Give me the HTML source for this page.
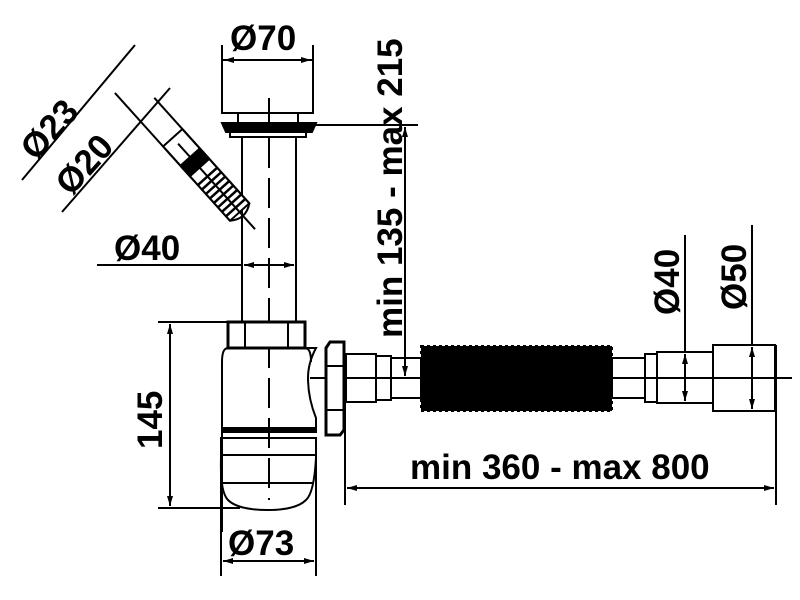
<!DOCTYPE html>
<html><head><style>body{margin:0;background:#fff}svg{display:block}text{font-family:"Liberation Sans",sans-serif;font-weight:bold;font-size:35px;fill:#000}</style></head><body>
<svg width="800" height="600" viewBox="0 0 800 600" xmlns="http://www.w3.org/2000/svg">
<defs><marker id="a" viewBox="0 0 10 6" refX="10" refY="3" markerWidth="10" markerHeight="6" orient="auto-start-reverse" markerUnits="userSpaceOnUse"><path d="M0,0L10,3L0,6z"/></marker></defs>
<g fill="none" stroke="#000" stroke-width="2">
<rect x="222" y="60" width="91" height="53" fill="#fff"/>
<line x1="222" y1="45" x2="222" y2="60"/><line x1="313" y1="45" x2="313" y2="60"/>
<line x1="224" y1="60" x2="311" y2="60" marker-start="url(#a)" marker-end="url(#a)"/>
<rect x="238" y="113" width="60" height="10"/>
<path d="M222,123h94l-4,9h-86z" fill="#000"/>
<rect x="230" y="132" width="76" height="5" />
<line x1="298" y1="125" x2="418" y2="125"/>
<line x1="242" y1="137" x2="242" y2="322"/><line x1="296" y1="137" x2="296" y2="322"/>
<line x1="269" y1="98" x2="269" y2="500" stroke-dasharray="30,10"/>
<line x1="97" y1="265" x2="242" y2="265"/>
<line x1="244" y1="265" x2="294" y2="265" marker-start="url(#a)" marker-end="url(#a)"/>
<rect x="228" y="322" width="77" height="26" fill="#fff" stroke-width="3"/>
<line x1="245" y1="322" x2="245" y2="348"/><line x1="288" y1="322" x2="288" y2="348"/>
<path d="M228,348 q-6,0 -6,14 v170 M305,348 q6,0 6,14"/>
<path d="M222,362 L222,432 H316 V418 q-8,-20 -8,-40 q0,-15 8,-30 l-10,0"/>
<path d="M222,432v-4h94v4z" fill="#000"/>
<path d="M221,438h95v20q-2,35 -10,42q-10,10 -38,10q-30,0 -40,-10q-8,-8 -7,-42z"/>
<line x1="222" y1="455" x2="316" y2="455"/>
<line x1="222" y1="483" x2="313" y2="483"/>
<line x1="158" y1="322" x2="228" y2="322"/><line x1="158" y1="508" x2="240" y2="508"/>
<line x1="170" y1="324" x2="170" y2="506" marker-start="url(#a)" marker-end="url(#a)"/>
<line x1="221" y1="455" x2="221" y2="576"/><line x1="316" y1="455" x2="316" y2="576"/>
<line x1="223" y1="561" x2="314" y2="561" marker-start="url(#a)" marker-end="url(#a)"/>
<line x1="310" y1="378" x2="792" y2="378" />
<path d="M326,348 l4,-6 h14 v88 l-4,5 h-14 z" fill="#fff" stroke-width="3"/>
<line x1="326" y1="366" x2="344" y2="366"/><line x1="326" y1="410" x2="344" y2="410"/>
<rect x="346" y="354" width="30" height="48"/>
<rect x="376" y="356" width="15" height="44"/>
<rect x="391" y="358" width="30" height="40"/>
<rect x="421" y="346" width="191" height="65" fill="#000" stroke-dasharray="3,3"/>
<rect x="612" y="358" width="33" height="40"/>
<rect x="645" y="354" width="12" height="48"/>
<rect x="657" y="352" width="56" height="51"/>
<rect x="713" y="345" width="62" height="66"/>
<line x1="405" y1="127" x2="405" y2="376" marker-start="url(#a)" marker-end="url(#a)"/>
<line x1="685" y1="235" x2="685" y2="352"/>
<line x1="685" y1="354" x2="685" y2="401" marker-start="url(#a)" marker-end="url(#a)"/>
<line x1="752" y1="225" x2="752" y2="345"/>
<line x1="752" y1="347" x2="752" y2="409" marker-start="url(#a)" marker-end="url(#a)"/>
<line x1="345" y1="402" x2="345" y2="505"/><line x1="776" y1="345" x2="776" y2="505"/>
<line x1="347" y1="488" x2="774" y2="488" marker-start="url(#a)" marker-end="url(#a)"/>
<g transform="translate(245,218) rotate(228)">
<rect x="8" y="-13" width="60" height="26" fill="#fff"/>
<rect x="68" y="-13" width="40" height="26"/>
<path d="M8,-13 q-10,13 0,26" />
<g stroke-width="2.5"><line x1="14" y1="-13" x2="14" y2="13"/><line x1="20" y1="-13" x2="20" y2="13"/><line x1="26" y1="-13" x2="26" y2="13"/><line x1="32" y1="-13" x2="32" y2="13"/><line x1="38" y1="-13" x2="38" y2="13"/><line x1="44" y1="-13" x2="44" y2="13"/><line x1="50" y1="-13" x2="50" y2="13"/><line x1="56" y1="-13" x2="56" y2="13"/></g>
<rect x="68" y="-13" width="14" height="26" fill="#000"/>
<line x1="-15" y1="0" x2="100" y2="0"/>
<line x1="8" y1="-13" x2="180" y2="-13"/><line x1="8" y1="13" x2="150" y2="13"/>
</g>
<line x1="22" y1="180" x2="135" y2="45"/>
<line x1="62" y1="212" x2="170" y2="88"/>
</g>
<text x="230" y="50">Ø70</text>
<text x="114" y="260">Ø40</text>
<text x="228" y="555">Ø73</text>
<text x="410" y="479">min 360 - max 800</text>
<text transform="translate(162,449) rotate(-90)">145</text>
<text transform="translate(402,338) rotate(-90)">min 135 - max 215</text>
<text transform="translate(679,315) rotate(-90)">Ø40</text>
<text transform="translate(746,310) rotate(-90)">Ø50</text>
<text transform="translate(36,162) rotate(-48)">Ø23</text>
<text transform="translate(71,197) rotate(-48)">Ø20</text>
</svg>
</body></html>
